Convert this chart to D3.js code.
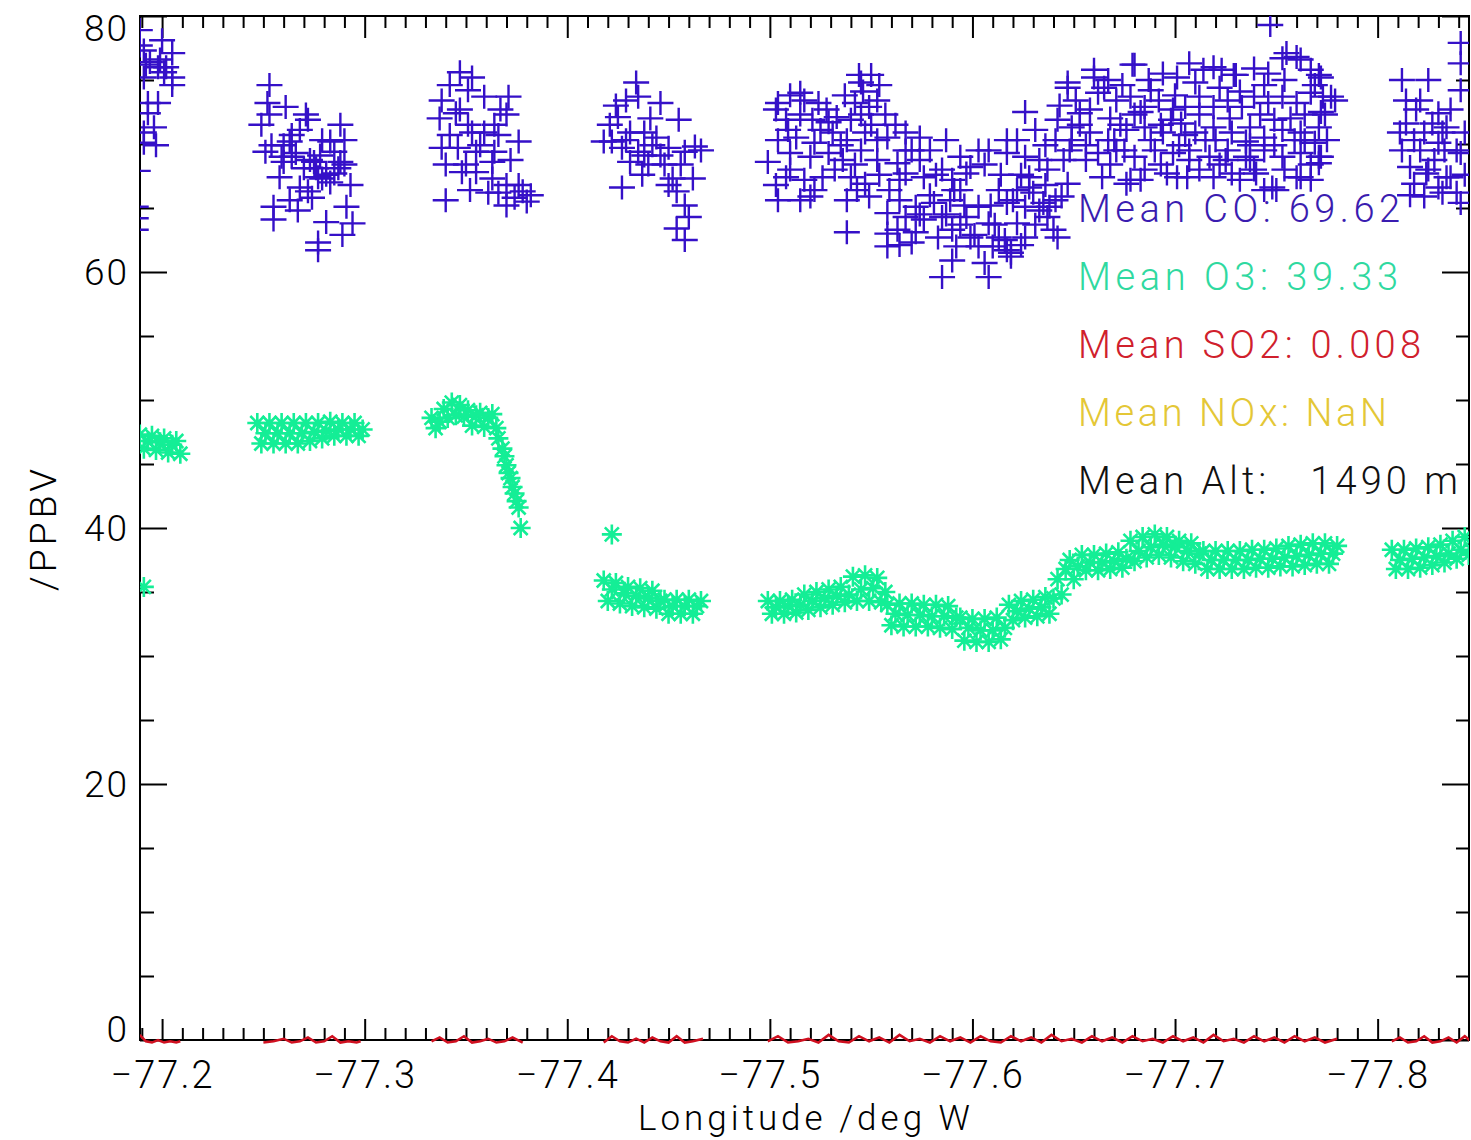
<!DOCTYPE html>
<html>
<head>
<meta charset="utf-8">
<script src="https://cdn.jsdelivr.net/npm/d3@7"></script>
<style>
  body { margin: 0; background: #fff; }
  svg { display: block; }
  text { font-family: Roboto, "Open Sans", sans-serif; font-weight: 300; }
</style>
</head>
<body>
<svg id="chart" width="1471" height="1140"></svg>
<script>
// ---- axis settings ----
const lonDomain = [-77.1891, -77.8451];
const valDomain = [0, 80];
const xTicks = [-77.2, -77.3, -77.4, -77.5, -77.6, -77.7, -77.8];
const yTicks = [0, 20, 40, 60, 80];
const xTitle = "Longitude /deg W";
const yTitle = "/PPBV";

// ---- summary lines printed inside the plot ----
const summaryLines = [
  { text: "Mean CO: 69.62",      color: "#3a1cb0", width: 322 },
  { text: "Mean O3: 39.33",      color: "#2fd9a0", width: 320 },
  { text: "Mean SO2: 0.008",     color: "#d0202c", width: 343 },
  { text: "Mean NOx: NaN",       color: "#e4c736", width: 309 },
  { text: "Mean Alt:   1490 m",  color: "#111111", width: 380 }
];

// ---- CO (ppbv) by flight leg: [longitude, value] ----
const coLegA = [
  [-77.189,78.9],[-77.200,78.1],[-77.191,77.3],[-77.205,77.1],[-77.194,76.4],[-77.202,76.0],
  [-77.198,76.0],[-77.205,75.2],[-77.205,74.6],[-77.191,75.2],[-77.193,73.2],[-77.198,73.2],
  [-77.193,72.4],[-77.196,71.3],[-77.191,70.9],[-77.197,69.9],[-77.191,70.1],[-77.187,65.1],
  [-77.187,64.2],[-77.187,63.3],[-77.189,77.7],[-77.192,76.2],[-77.199,76.6],[-77.201,75.6],
  [-77.188,67.9]
];
const coLegB = [
  [-77.253,74.6],[-77.252,73.2],[-77.261,72.9],[-77.253,72.3],[-77.272,71.9],[-77.288,71.5],
  [-77.264,70.7],[-77.279,70.3],[-77.254,69.9],[-77.260,69.9],[-77.283,70.2],[-77.266,69.3],
  [-77.290,68.4],[-77.275,68.6],[-77.260,68.6],[-77.270,68.1],[-77.281,67.6],[-77.285,67.7],
  [-77.258,67.4],[-77.268,66.6],[-77.272,66.3],[-77.255,65.1],[-77.267,64.8],[-77.255,64.1],
  [-77.281,63.9],[-77.291,65.1],[-77.294,63.8],[-77.289,62.9],[-77.277,62.3],[-77.277,61.7],
  [-77.264,69.0],[-77.276,68.1],[-77.279,67.3],[-77.287,68.1],[-77.251,69.4],[-77.259,69.0],
  [-77.271,72.3],[-77.263,70.2],[-77.285,69.4],[-77.288,68.6],[-77.277,67.4],[-77.283,67.0],
  [-77.274,65.8],[-77.249,71.5],[-77.268,71.1],[-77.278,69.1],[-77.290,70.3],[-77.263,65.6],
  [-77.273,68.75],[-77.293,66.8]
];
const coLegC = [
  [-77.347,75.6],[-77.353,75.2],[-77.342,74.6],[-77.338,73.4],[-77.351,74.2],[-77.359,73.7],
  [-77.371,73.7],[-77.370,72.3],[-77.345,72.4],[-77.353,70.9],[-77.359,70.9],[-77.366,70.7],
  [-77.376,70.2],[-77.342,70.7],[-77.338,69.7],[-77.346,69.7],[-77.355,69.4],[-77.364,69.4],
  [-77.340,68.4],[-77.350,68.4],[-77.363,68.6],[-77.355,67.8],[-77.363,67.3],[-77.370,66.8],
  [-77.376,66.8],[-77.361,66.2],[-77.366,66.2],[-77.374,65.8],[-77.378,66.3],[-77.380,65.5],
  [-77.370,65.2],[-77.340,65.6],[-77.348,67.8],[-77.351,71.5],[-77.364,71.5],
  [-77.337,72.0],[-77.347,72.7],[-77.357,69.9],[-77.372,68.75],[-77.352,66.4],[-77.367,72.7],
  [-77.382,66.0]
];
const coLegD = [
  [-77.434,74.8],[-77.429,73.4],[-77.435,73.7],[-77.446,73.2],[-77.424,73.0],[-77.455,71.9],
  [-77.425,72.1],[-77.431,70.9],[-77.438,70.9],[-77.444,70.5],[-77.422,70.2],[-77.427,69.7],
  [-77.435,69.4],[-77.442,69.9],[-77.450,69.7],[-77.463,69.8],[-77.458,69.4],[-77.431,68.6],
  [-77.440,68.4],[-77.448,68.4],[-77.437,67.6],[-77.452,67.3],[-77.462,67.3],[-77.427,66.6],
  [-77.450,66.8],[-77.454,66.3],[-77.458,65.2],[-77.460,64.3],[-77.454,63.4],[-77.458,62.5],
  [-77.418,70.2],[-77.421,71.5],[-77.429,70.3],[-77.441,72.0],[-77.446,69.1],[-77.456,68.4],
  [-77.466,69.5],[-77.438,69.1]
];
const coLegE = [
  [-77.515,74.0],[-77.504,73.2],[-77.544,75.4],[-77.550,75.4],[-77.545,74.8],[-77.553,73.4],
  [-77.542,73.2],[-77.549,72.9],[-77.524,73.2],[-77.517,73.4],[-77.533,72.1],[-77.529,71.7],
  [-77.509,71.1],[-77.504,70.3],[-77.513,70.5],[-77.522,70.1],[-77.531,70.9],[-77.538,70.3],
  [-77.547,70.9],[-77.553,70.3],[-77.558,70.5],[-77.499,68.6],[-77.510,69.3],[-77.520,69.0],
  [-77.529,69.3],[-77.536,68.75],[-77.545,69.5],[-77.553,68.75],[-77.563,68.5],[-77.567,70.9],
  [-77.574,70.5],[-77.570,69.5],[-77.508,67.4],[-77.517,67.2],[-77.526,67.4],[-77.540,67.4],
  [-77.547,66.9],[-77.504,65.6],[-77.515,65.6],[-77.520,65.9],[-77.543,66.4],[-77.538,65.6],
  [-77.549,65.9],[-77.567,67.7],[-77.576,67.4],[-77.585,68.0],[-77.587,70.3],[-77.594,69.0],
  [-77.603,69.5],[-77.608,69.5],[-77.599,68.2],[-77.590,67.2],[-77.597,67.7],[-77.558,64.6],
  [-77.563,63.3],[-77.558,63.0],[-77.567,64.3],[-77.572,65.1],[-77.576,64.1],[-77.581,65.4],
  [-77.585,64.3],[-77.583,62.7],[-77.590,63.3],[-77.597,64.3],[-77.599,62.7],[-77.603,65.1],
  [-77.608,63.8],[-77.613,62.7],[-77.617,61.7],[-77.610,62.0],[-77.603,62.0],[-77.592,62.0],
  [-77.590,60.9],[-77.585,59.6],[-77.608,59.6],[-77.606,60.7],[-77.619,61.2],[-77.538,63.1],
  [-77.558,62.0],[-77.570,62.3],[-77.613,66.4],[-77.617,65.4],[-77.622,66.4],[-77.626,65.1],
  [-77.628,67.4],[-77.630,66.2],[-77.635,65.4],[-77.637,64.3],[-77.640,63.3],[-77.642,62.7],
  [-77.626,72.5],[-77.622,70.3],[-77.617,69.3],[-77.626,69.0],[-77.633,68.75],[-77.637,68.0],
  [-77.647,66.9],[-77.644,65.9],[-77.622,63.8],[-77.626,62.7],
  [-77.647,74.8],[-77.660,75.8],[-77.667,75.0],[-77.674,74.6],[-77.680,76.2],[-77.687,75.0],
  [-77.694,75.5],[-77.701,75.2],[-77.707,76.3],[-77.714,75.8],[-77.723,75.8],[-77.730,75.4],
  [-77.739,75.9],[-77.746,75.5],[-77.753,76.7],[-77.760,76.8],[-77.767,75.8],[-77.771,75.4],
  [-77.642,71.9],[-77.653,72.4],[-77.649,71.3],[-77.662,74.0],[-77.671,73.4],[-77.678,73.7],
  [-77.685,72.9],[-77.692,73.4],[-77.699,72.7],[-77.705,72.9],[-77.712,73.7],[-77.719,72.9],
  [-77.726,73.4],[-77.733,72.9],[-77.739,73.7],[-77.746,73.2],[-77.753,73.7],[-77.760,73.2],
  [-77.767,74.0],[-77.773,73.7],[-77.649,70.3],[-77.658,70.9],[-77.667,70.3],[-77.676,71.1],
  [-77.685,71.3],[-77.694,70.9],[-77.703,71.6],[-77.710,70.9],[-77.719,71.3],[-77.728,70.9],
  [-77.737,71.3],[-77.744,70.5],[-77.753,71.1],[-77.762,70.9],[-77.771,71.3],[-77.662,69.3],
  [-77.671,69.5],[-77.680,69.0],[-77.690,69.5],[-77.699,69.3],[-77.707,69.5],[-77.717,69.0],
  [-77.726,69.5],[-77.735,69.0],[-77.744,69.5],[-77.753,69.0],[-77.762,69.3],[-77.771,69.0],
  [-77.664,67.4],[-77.678,67.2],[-77.685,68.0],[-77.701,67.4],[-77.712,68.0],[-77.728,67.7],
  [-77.739,68.0],[-77.748,66.6],[-77.760,67.4],[-77.771,68.5],[-77.769,70.1],[-77.744,66.4],
  [-77.647,74.4],[-77.660,75.2],[-77.679,76.2],[-77.719,76.0],[-77.729,75.4],[-77.755,77.1],
  [-77.762,76.6],[-77.772,75.2],[-77.777,73.7],[-77.775,70.3],[-77.772,69.0],[-77.762,67.4],
  [-77.750,66.4],[-77.767,67.2],[-77.740,67.7],[-77.732,67.2],[-77.719,67.4],[-77.706,67.4],
  [-77.696,67.7],[-77.683,67.2],[-77.676,66.9],[-77.645,68.75],[-77.619,61.5],[-77.620,65.6],
  [-77.628,66.6],[-77.638,65.1],[-77.617,70.3],[-77.747,79.3],
  [-77.653,71.5],[-77.668,72.0],[-77.683,72.5],[-77.698,71.9],[-77.712,72.3],[-77.727,72.0],
  [-77.742,72.3],[-77.757,72.0],[-77.772,72.5],[-77.656,69.9],[-77.670,70.3],[-77.688,70.3],
  [-77.702,69.9],[-77.720,70.3],[-77.735,70.2],[-77.749,69.9],[-77.764,70.3],
  [-77.631,71.1],[-77.636,69.9],[-77.643,73.0],[-77.614,67.6],[-77.606,68.4],
  [-77.559,66.4],[-77.564,67.2],[-77.579,66.0],[-77.574,68.75],[-77.589,65.6],[-77.594,66.4],
  [-77.508,71.9],[-77.515,72.3],[-77.525,71.1],[-77.540,71.9],[-77.535,69.9],[-77.550,71.5],
  [-77.545,72.3],[-77.503,66.8],
  [-77.503,72.7],[-77.510,73.8],[-77.521,71.9],[-77.528,72.7],[-77.537,73.8],[-77.546,74.1],
  [-77.554,74.6],[-77.557,72.3],[-77.562,71.5],[-77.510,68.0],[-77.522,66.4],[-77.532,68.0],
  [-77.542,68.4],[-77.554,67.6],[-77.567,69.5],[-77.579,69.5],[-77.582,67.6],[-77.591,66.4],
  [-77.564,65.6],[-77.574,64.5],[-77.587,64.5],[-77.594,63.7],[-77.601,62.9],[-77.611,63.7],
  [-77.616,62.5],[-77.624,62.1],[-77.631,63.7],[-77.633,64.8],[-77.641,65.6],[-77.636,66.8],
  [-77.624,67.6],[-77.609,65.2],[-77.596,65.2],[-77.572,63.1],[-77.564,62.1],
  [-77.651,73.4],[-77.658,72.7],[-77.665,74.4],[-77.673,71.5],[-77.680,72.3],[-77.688,74.2],
  [-77.693,71.5],[-77.700,73.8],[-77.705,70.7],[-77.710,74.8],[-77.715,70.3],[-77.722,74.4],
  [-77.725,68.75],[-77.732,74.1],[-77.737,69.9],[-77.744,74.6],[-77.749,71.9],[-77.754,75.0],
  [-77.759,70.3],[-77.764,72.3],[-77.769,74.6],[-77.774,72.3],[-77.779,73.4],[-77.656,68.75],
  [-77.668,68.4],[-77.675,69.5],[-77.693,68.4],[-77.707,68.75],[-77.722,68.4],[-77.737,68.75],
  [-77.754,68.0],[-77.767,68.4],[-77.648,69.5],[-77.641,70.3]
];
const coLegF = [
  [-77.812,75.0],[-77.825,75.0],[-77.821,73.4],[-77.830,72.4],[-77.814,71.6],[-77.823,70.9],
  [-77.834,71.3],[-77.812,69.5],[-77.821,69.5],[-77.830,70.1],[-77.839,69.5],[-77.816,68.2],
  [-77.825,68.0],[-77.834,67.4],[-77.818,66.9],[-77.830,66.6],[-77.823,65.9],[-77.839,66.2],
  [-77.841,77.9],[-77.841,76.3],[-77.841,74.2],[-77.843,70.9],[-77.819,72.7],[-77.827,71.6],
  [-77.811,70.9],[-77.832,70.9],[-77.841,69.3],[-77.824,67.7],[-77.836,67.4],[-77.832,66.2],
  [-77.841,65.4],[-77.814,73.4],[-77.818,70.3],[-77.828,68.75],[-77.836,72.7],[-77.843,67.6],
  [-77.816,66.0],[-77.833,69.5]
];

// ---- O3 (ppbv) by flight leg ----
const o3LegA = [
  [-77.191,35.4],
  [-77.189,47.3],[-77.191,46.2],[-77.193,46.8],[-77.195,47.2],[-77.197,46.1],[-77.199,46.7],
  [-77.201,47.0],[-77.203,45.9],[-77.205,46.5],[-77.207,46.8],[-77.209,45.8]
];
const o3LegB = [
  [-77.247,48.2],[-77.249,46.6],[-77.251,47.4],[-77.253,48.2],[-77.255,46.6],[-77.257,47.4],
  [-77.259,48.2],[-77.261,46.6],[-77.263,47.4],[-77.265,48.2],[-77.267,46.6],[-77.269,47.4],
  [-77.271,48.2],[-77.273,46.8],[-77.275,47.5],[-77.277,48.2],[-77.279,47.0],[-77.281,47.6],
  [-77.283,48.3],[-77.285,47.2],[-77.287,47.7],[-77.289,48.2],[-77.291,47.2],[-77.293,47.7],
  [-77.295,48.2],[-77.297,47.2],[-77.299,47.7]
];
const o3LegC = [
  [-77.333,48.6],[-77.335,47.8],[-77.337,48.3],[-77.339,49.3],[-77.341,48.6],[-77.343,49.8],
  [-77.345,48.8],[-77.347,49.6],[-77.349,48.7],[-77.351,49.2],[-77.353,48.0],[-77.355,48.8],
  [-77.357,49.0],[-77.359,47.9],[-77.361,48.6],[-77.363,48.9],[-77.365,47.8],[-77.366,47.0],
  [-77.368,46.2],[-77.369,45.6],[-77.370,44.9],[-77.371,44.3],[-77.372,43.9],[-77.373,43.2],
  [-77.374,42.7],[-77.375,42.1],[-77.376,41.6],[-77.377,40.0]
];
const o3LegD = [
  [-77.422,39.5],
  [-77.418,35.9],[-77.420,34.3],[-77.422,35.2],[-77.424,35.7],[-77.426,34.1],[-77.428,34.9],
  [-77.430,35.4],[-77.432,33.9],[-77.434,34.7],[-77.436,35.3],[-77.438,33.8],[-77.440,34.5],
  [-77.442,35.1],[-77.444,33.7],[-77.446,34.3],[-77.448,34.4],[-77.450,33.3],[-77.452,33.9],
  [-77.454,34.4],[-77.456,33.3],[-77.458,33.9],[-77.460,34.4],[-77.462,33.3],[-77.464,33.9],
  [-77.466,34.3]
];
const o3LegE = [
  [-77.499,34.3],[-77.501,33.3],[-77.503,33.8],[-77.505,34.3],[-77.507,33.3],[-77.509,33.9],
  [-77.511,34.4],[-77.513,33.4],[-77.515,34.0],[-77.517,34.8],[-77.519,33.6],[-77.521,34.3],
  [-77.523,35.0],[-77.525,33.8],[-77.527,34.5],[-77.529,35.2],[-77.531,34.0],[-77.533,34.7],
  [-77.535,35.4],[-77.537,34.2],[-77.539,34.8],[-77.541,36.2],[-77.543,34.3],[-77.545,35.2],
  [-77.547,36.3],[-77.549,34.3],[-77.551,35.3],[-77.553,36.1],[-77.555,34.2],[-77.557,35.0],
  [-77.558,34.0],[-77.560,32.4],[-77.562,33.3],[-77.564,34.1],[-77.566,32.3],[-77.568,33.2],
  [-77.570,34.1],[-77.572,32.3],[-77.574,33.2],[-77.576,34.0],[-77.578,32.3],[-77.580,33.1],
  [-77.582,34.0],[-77.584,32.2],[-77.586,33.1],[-77.588,33.9],[-77.590,32.1],[-77.592,33.0],
  [-77.594,33.0],[-77.596,31.2],[-77.598,32.2],[-77.600,32.9],[-77.602,31.1],[-77.604,32.0],
  [-77.606,32.9],[-77.608,31.1],[-77.610,32.0],[-77.612,33.0],[-77.614,31.3],[-77.616,32.2],
  [-77.618,34.0],[-77.620,32.8],[-77.622,33.5],[-77.624,34.3],[-77.626,33.0],[-77.628,33.7],
  [-77.630,34.4],[-77.632,33.1],[-77.634,33.8],[-77.636,34.6],[-77.638,33.3],[-77.640,34.5],
  [-77.642,36.0],[-77.644,34.8],[-77.646,36.8],[-77.648,37.5],[-77.650,36.0],[-77.652,37.0],
  [-77.654,37.9],[-77.656,36.7],[-77.658,37.3],[-77.660,37.9],[-77.662,36.7],[-77.664,37.3],
  [-77.666,38.0],[-77.668,36.8],[-77.670,37.4],[-77.672,38.1],[-77.674,36.9],[-77.676,37.6],
  [-77.678,39.0],[-77.680,37.4],[-77.682,38.2],[-77.684,39.3],[-77.686,37.7],[-77.688,38.5],
  [-77.690,39.5],[-77.692,37.9],[-77.694,38.7],[-77.696,39.3],[-77.698,37.7],[-77.700,38.5],
  [-77.702,39.0],[-77.704,37.4],[-77.706,38.2],[-77.708,38.8],[-77.710,37.2],[-77.712,38.0],
  [-77.714,38.2],[-77.716,36.8],[-77.718,37.5],[-77.720,38.2],[-77.722,36.8],[-77.724,37.5],
  [-77.726,38.2],[-77.728,36.8],[-77.730,37.5],[-77.732,38.2],[-77.734,36.8],[-77.736,37.5],
  [-77.738,38.3],[-77.740,36.9],[-77.742,37.6],[-77.744,38.3],[-77.746,36.9],[-77.748,37.6],
  [-77.750,38.4],[-77.752,37.0],[-77.754,37.7],[-77.756,38.6],[-77.758,37.0],[-77.760,37.8],
  [-77.762,38.7],[-77.764,37.1],[-77.766,37.9],[-77.768,38.8],[-77.770,37.2],[-77.772,38.0],
  [-77.774,38.8],[-77.776,37.2],[-77.778,38.0],[-77.780,38.6]
];
const o3LegF = [
  [-77.807,38.3],[-77.809,36.8],[-77.811,37.5],[-77.813,38.3],[-77.815,36.8],[-77.817,37.6],
  [-77.819,38.4],[-77.821,36.9],[-77.823,37.7],[-77.825,38.5],[-77.827,37.1],[-77.829,37.8],
  [-77.831,38.7],[-77.833,37.3],[-77.835,38.0],[-77.837,39.0],[-77.839,37.6],[-77.841,38.3],
  [-77.843,39.3],[-77.845,37.9],[-77.847,38.6]
];

// ---- SO2 (ppbv) by flight leg ----
const so2LegA = [[-77.189,0.4],[-77.192,-0.1],[-77.195,-0.2],[-77.198,0.0],[-77.201,-0.2],[-77.204,-0.1],[-77.207,-0.2],[-77.209,-0.1]];
const so2LegB = [[-77.250,-0.2],[-77.255,-0.1],[-77.260,0.1],[-77.264,-0.2],[-77.268,-0.1],[-77.272,0.2],[-77.276,-0.2],[-77.280,-0.1],[-77.284,0.3],[-77.288,-0.2],[-77.292,-0.1],[-77.296,-0.2],[-77.298,-0.1]];
const so2LegC = [[-77.333,-0.1],[-77.337,0.2],[-77.341,-0.2],[-77.345,-0.1],[-77.349,0.3],[-77.353,-0.2],[-77.357,-0.1],[-77.361,0.1],[-77.365,-0.2],[-77.369,-0.1],[-77.373,0.2],[-77.378,-0.2]];
const so2LegD = [[-77.418,-0.2],[-77.422,0.3],[-77.426,-0.1],[-77.430,-0.2],[-77.434,0.1],[-77.438,-0.2],[-77.442,0.2],[-77.446,-0.1],[-77.450,-0.2],[-77.454,0.3],[-77.458,-0.2],[-77.462,-0.1],[-77.467,0.1]];
const so2LegE = [
  [-77.499,-0.1],[-77.504,0.3],[-77.509,-0.2],[-77.514,-0.1],[-77.519,0.1],[-77.524,-0.2],[-77.529,0.4],[-77.534,-0.1],
  [-77.539,-0.2],[-77.544,0.3],[-77.549,-0.1],[-77.554,0.2],[-77.559,-0.2],[-77.564,0.4],[-77.569,-0.1],[-77.574,0.1],
  [-77.579,-0.2],[-77.584,0.3],[-77.589,-0.1],[-77.594,0.2],[-77.599,-0.2],[-77.604,0.3],[-77.609,-0.1],[-77.614,-0.2],
  [-77.619,0.3],[-77.624,-0.1],[-77.629,0.2],[-77.634,-0.2],[-77.639,0.4],[-77.644,-0.1],[-77.649,0.1],[-77.654,-0.2],
  [-77.659,0.3],[-77.664,-0.1],[-77.669,0.2],[-77.674,-0.2],[-77.679,0.3],[-77.684,-0.1],[-77.689,0.1],[-77.694,-0.2],
  [-77.699,0.3],[-77.704,-0.1],[-77.709,0.2],[-77.714,-0.2],[-77.719,0.4],[-77.724,-0.1],[-77.729,0.1],[-77.734,-0.2],
  [-77.739,0.3],[-77.744,-0.1],[-77.749,0.2],[-77.754,-0.2],[-77.759,0.3],[-77.764,-0.1],[-77.769,0.2],[-77.774,-0.2],
  [-77.780,0.1]
];
const so2LegF = [[-77.807,-0.1],[-77.811,0.2],[-77.815,-0.2],[-77.819,-0.1],[-77.823,0.3],[-77.827,-0.2],[-77.831,-0.1],[-77.835,0.2],[-77.839,-0.2],[-77.843,0.3],[-77.846,-0.1]];

const coLegs  = [coLegA, coLegB, coLegC, coLegD, coLegE, coLegF];
const o3Legs  = [o3LegA, o3LegB, o3LegC, o3LegD, o3LegE, o3LegF];
const so2Legs = [so2LegA, so2LegB, so2LegC, so2LegD, so2LegE, so2LegF];

// ---- drawing ----
const plot = { left: 140, right: 1469, top: 16, bottom: 1040 };
const x = d3.scaleLinear().domain(lonDomain).range([plot.left, plot.right]);
const y = d3.scaleLinear().domain(valDomain).range([plot.bottom, plot.top]);

const svg = d3.select("#chart");
const defs = svg.append("defs");
defs.append("clipPath").attr("id", "plotClip").append("rect")
  .attr("x", plot.left).attr("y", plot.top)
  .attr("width", plot.right - plot.left).attr("height", plot.bottom - plot.top);
defs.append("clipPath").attr("id", "lowClip").append("rect")
  .attr("x", plot.left).attr("y", plot.top)
  .attr("width", plot.right - plot.left).attr("height", plot.bottom - plot.top + 5);

const xMinor = d3.range(-77.19, -77.845, -0.01).map(v => Math.round(v * 100) / 100)
  .filter(v => Math.abs(v * 10 - Math.round(v * 10)) > 1e-6);
const yMinor = d3.range(0, 81, 5).filter(v => v % 20 !== 0);
const fmtLon = d3.format(".1f");

function styleAxis(g) {
  g.select(".domain").remove();
  g.selectAll(".tick line").attr("stroke", "#000").attr("stroke-width", 2);
  g.selectAll(".tick text").attr("fill", "#000").style("font-size", "38px");
}

// bottom axis with labels
svg.append("g").attr("transform", `translate(0,${plot.bottom})`)
  .call(d3.axisBottom(x).tickValues(xTicks).tickFormat(fmtLon).tickSize(-21).tickPadding(21))
  .call(styleAxis)
  .call(g => g.selectAll(".tick text").attr("letter-spacing", "2px"));
svg.append("g").attr("transform", `translate(0,${plot.bottom})`)
  .call(d3.axisBottom(x).tickValues(xMinor).tickFormat("").tickSize(-12))
  .call(styleAxis);
// top axis
svg.append("g").attr("transform", `translate(0,${plot.top})`)
  .call(d3.axisTop(x).tickValues(xTicks).tickFormat("").tickSize(-22))
  .call(styleAxis);
svg.append("g").attr("transform", `translate(0,${plot.top})`)
  .call(d3.axisTop(x).tickValues(xMinor).tickFormat("").tickSize(-12))
  .call(styleAxis);
// left axis with labels
const yAxisG = svg.append("g").attr("transform", `translate(${plot.left},0)`)
  .call(d3.axisLeft(y).tickValues(yTicks).tickFormat(d3.format("d")).tickSize(-27).tickPadding(11))
  .call(styleAxis);
yAxisG.selectAll(".tick text")
  .style("font-size", "37px")
  .attr("letter-spacing", "2px")
  .attr("dy", d => d === 80 ? "0.66em" : d === 0 ? "0.04em" : "0.34em");
svg.append("g").attr("transform", `translate(${plot.left},0)`)
  .call(d3.axisLeft(y).tickValues(yMinor).tickFormat("").tickSize(-14))
  .call(styleAxis);
// right axis
svg.append("g").attr("transform", `translate(${plot.right},0)`)
  .call(d3.axisRight(y).tickValues(yTicks).tickFormat("").tickSize(-27))
  .call(styleAxis);
svg.append("g").attr("transform", `translate(${plot.right},0)`)
  .call(d3.axisRight(y).tickValues(yMinor).tickFormat("").tickSize(-13))
  .call(styleAxis);

// frame
svg.append("rect")
  .attr("x", plot.left).attr("y", plot.top)
  .attr("width", plot.right - plot.left).attr("height", plot.bottom - plot.top)
  .attr("fill", "none").attr("stroke", "#000").attr("stroke-width", 2);

// axis titles
svg.append("text")
  .attr("x", 804).attr("y", 1130)
  .attr("text-anchor", "middle")
  .attr("textLength", 332).attr("lengthAdjust", "spacing")
  .style("font-size", "35px").attr("fill", "#000")
  .text(xTitle);
svg.append("text")
  .attr("transform", "translate(56,530) rotate(-90)")
  .attr("text-anchor", "middle")
  .attr("textLength", 122).attr("lengthAdjust", "spacing")
  .style("font-size", "37px").attr("fill", "#000")
  .text(yTitle);

// data
const dataG = svg.append("g").attr("clip-path", "url(#plotClip)");
const plusPath = "M-13,0H13M0,-12V12";
const starPath = "M-10,0H10M0,-10V10M-7,-7L7,7M-7,7L7,-7";

dataG.append("g").selectAll("path")
  .data(o3Legs.flat())
  .join("path")
  .attr("transform", d => `translate(${x(d[0])},${y(d[1])})`)
  .attr("d", starPath)
  .attr("fill", "none").attr("stroke", "#14ee96").attr("stroke-width", 2.6);

dataG.append("g").selectAll("path")
  .data(coLegs.flat())
  .join("path")
  .attr("transform", d => `translate(${x(d[0])},${y(d[1])})`)
  .attr("d", plusPath)
  .attr("fill", "none").attr("stroke", "#3510c8").attr("stroke-width", 2.4);

const so2Line = d3.line().x(d => x(d[0])).y(d => y(d[1]));
svg.append("g").attr("clip-path", "url(#lowClip)").selectAll("path")
  .data(so2Legs)
  .join("path")
  .attr("d", so2Line)
  .attr("fill", "none").attr("stroke", "#d01020").attr("stroke-width", 2.5);

// summary text
const baselines = [222, 290, 358, 426, 494];
svg.append("g").selectAll("text")
  .data(summaryLines)
  .join("text")
  .attr("x", 1078)
  .attr("y", (d, i) => baselines[i])
  .attr("textLength", d => d.width).attr("lengthAdjust", "spacing")
  .attr("xml:space", "preserve")
  .style("white-space", "pre")
  .style("font-size", "38px")
  .attr("fill", d => d.color)
  .text(d => d.text);
</script>
</body>
</html>
